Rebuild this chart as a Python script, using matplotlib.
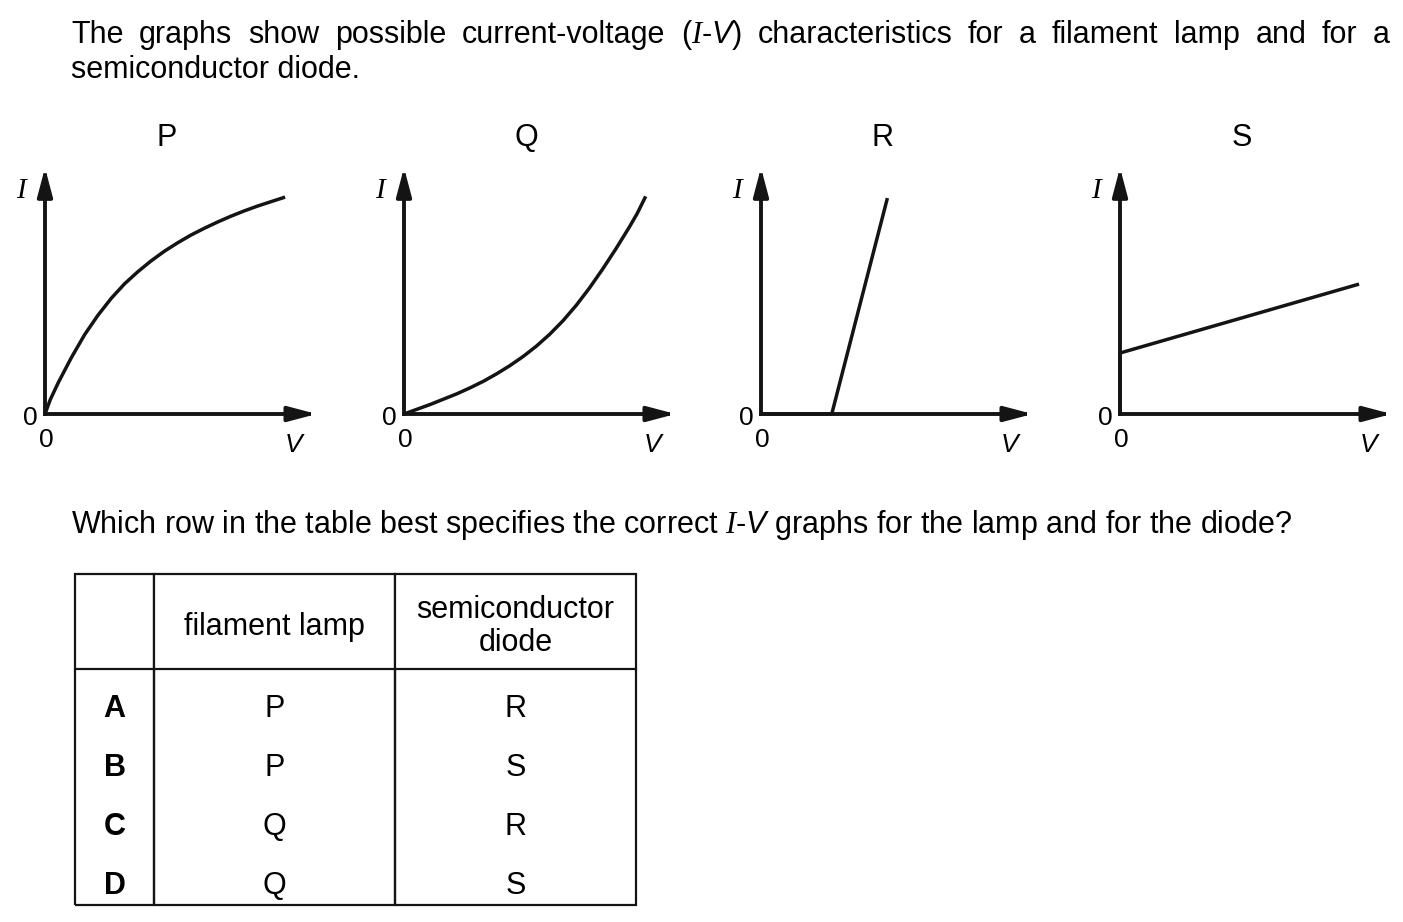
import matplotlib
matplotlib.use('Agg')
import matplotlib.pyplot as plt

plt.rcParams['font.family'] = 'Liberation Sans'
plt.rcParams['mathtext.fontset'] = 'custom'
plt.rcParams['mathtext.it'] = 'Liberation Serif:italic'
plt.rcParams['mathtext.rm'] = 'Liberation Sans'
plt.rcParams['mathtext.sf'] = 'Liberation Sans:italic'

W, H = 1403, 922
INK = '#141414'
FS = 22

########################################################
# I-V curves, V and I as fraction of the axis arrows
P_V = [0, 0.02, 0.05, 0.10, 0.15, 0.20, 0.25, 0.30, 0.35, 0.40, 0.45,
       0.50, 0.55, 0.60, 0.65, 0.70, 0.75, 0.80, 0.85, 0.906]
P_I = [0, 0.06, 0.13, 0.235, 0.33, 0.41, 0.48, 0.54, 0.59, 0.635, 0.675,
       0.71, 0.742, 0.77, 0.796, 0.82, 0.842, 0.862, 0.88, 0.90]
Q_V = [0, 0.05, 0.10, 0.15, 0.20, 0.25, 0.30, 0.35, 0.40, 0.45, 0.50,
       0.55, 0.60, 0.65, 0.70, 0.75, 0.80, 0.85, 0.88, 0.912]
Q_I = [0, 0.02, 0.04, 0.062, 0.084, 0.109, 0.136, 0.167, 0.201, 0.239, 0.282,
       0.331, 0.387, 0.451, 0.523, 0.602, 0.686, 0.775, 0.832, 0.903]
R_V = [0, 0.267, 0.477]
R_I = [0, 0, 0.896]
S_V = [0, 0, 0.902]
S_I = [0, 0.253, 0.539]

graph_names = ['P', 'Q', 'R', 'S']
graph_V = [P_V, Q_V, R_V, S_V]
graph_I = [P_I, Q_I, R_I, S_I]
origin_x = [45, 404, 761, 1120]  # pixel x of each origin

# table
rows = ['A', 'B', 'C', 'D']
lamp = ['P', 'P', 'Q', 'Q']
diode = ['R', 'S', 'R', 'S']
headers = ['', 'filament lamp', 'semiconductor\ndiode']
########################################################

fig = plt.figure(figsize=(W / 100, H / 100), dpi=100)
r = fig.canvas.get_renderer()

# top paragraph, first line justified
line1 = ['The', 'graphs', 'show', 'possible', 'current-voltage',
         r'($I$-$\mathsf{V}$)', 'characteristics', 'for', 'a', 'filament',
         'lamp', 'and', 'for', 'a']
words = [fig.text(0, 1 - 43 / H, w, fontsize=FS, va='baseline') for w in line1]
widths = [t.get_window_extent(r).width for t in words]
gap = (1390 - 71 - sum(widths)) / (len(words) - 1)
x = 71
for t, w in zip(words, widths):
    t.set_x(x / W)
    x += w + gap
fig.text(71 / W, 1 - 78 / H, 'semiconductor diode.', fontsize=FS, va='baseline')

fig.text(71 / W, 1 - 533 / H,
         r'Which row in the table best specifies the correct $I$-$\mathsf{V}$ '
         'graphs for the lamp and for the diode?', fontsize=FS, va='baseline')

# the four graphs
aw, ah = 265, 241
for name, V, I, ox in zip(graph_names, graph_V, graph_I, origin_x):
    ax = fig.add_axes([ox / W, 1 - 414 / H, aw / W, ah / H])
    ax.set_xlim(0, 1)
    ax.set_ylim(0, 1)
    ax.axis('off')
    for tip in [(1.025, 0), (0, 1.022)]:
        ax.annotate('', xy=tip, xytext=(0, 0), xycoords='axes fraction',
                    arrowprops=dict(arrowstyle='-|>,head_length=1.7,head_width=0.45',
                                    lw=2.8, color=INK, shrinkA=0, shrinkB=0,
                                    capstyle='projecting'))
    ax.plot(V, I, color=INK, lw=2.5, clip_on=False, solid_capstyle='butt')
    ax.text(-0.09, 0.925, 'I', transform=ax.transAxes, fontsize=21,
            family='Liberation Serif', style='italic', ha='center', va='center')
    ax.text(-0.057, -0.015, '0', transform=ax.transAxes, fontsize=19,
            ha='center', va='center')
    ax.text(0.004, -0.107, '0', transform=ax.transAxes, fontsize=19,
            ha='center', va='center')
    ax.text(0.937, -0.13, 'V', transform=ax.transAxes, fontsize=19,
            style='italic', ha='center', va='center')
    ax.text(0.46, 1.145, name, transform=ax.transAxes, fontsize=FS,
            ha='center', va='center')

# answer table
tax = fig.add_axes([75 / W, 1 - 905 / H, (636 - 75) / W, (905 - 574) / H])
tax.axis('off')
cell_text = [headers] + [[a, b, c] for a, b, c in zip(rows, lamp, diode)]
tb = tax.table(cellText=cell_text, cellLoc='center', bbox=[0, 0, 1, 1],
               colWidths=[79, 241, 241])
tb.auto_set_font_size(False)
tb.set_fontsize(FS)
nrow = len(cell_text)


def shift_text(cell, dy):
    # nudge the cell text down by dy pixels after the table places it
    orig = cell._set_text_position

    def placed(renderer):
        orig(renderer)
        x0, y0 = cell._text.get_position()
        cell._text.set_position((x0, y0 - dy))
    cell._set_text_position = placed


for (i, j), cell in tb.get_celld().items():
    cell.set_height(95 if i == 0 else 59)
    cell.set_linewidth(1.6)
    cell.set_edgecolor(INK)
    if i == 0:
        cell.visible_edges = 'closed'
        cell.get_text().set_linespacing(1.1)
        shift_text(cell, 5)
    elif i == nrow - 1:
        cell.visible_edges = 'LRB'
        shift_text(cell, 10)
    else:
        cell.visible_edges = 'LR'
        shift_text(cell, 10)
    if i > 0 and j == 0:
        cell.get_text().set_fontweight('bold')

fig.savefig('out.png', dpi=100)
